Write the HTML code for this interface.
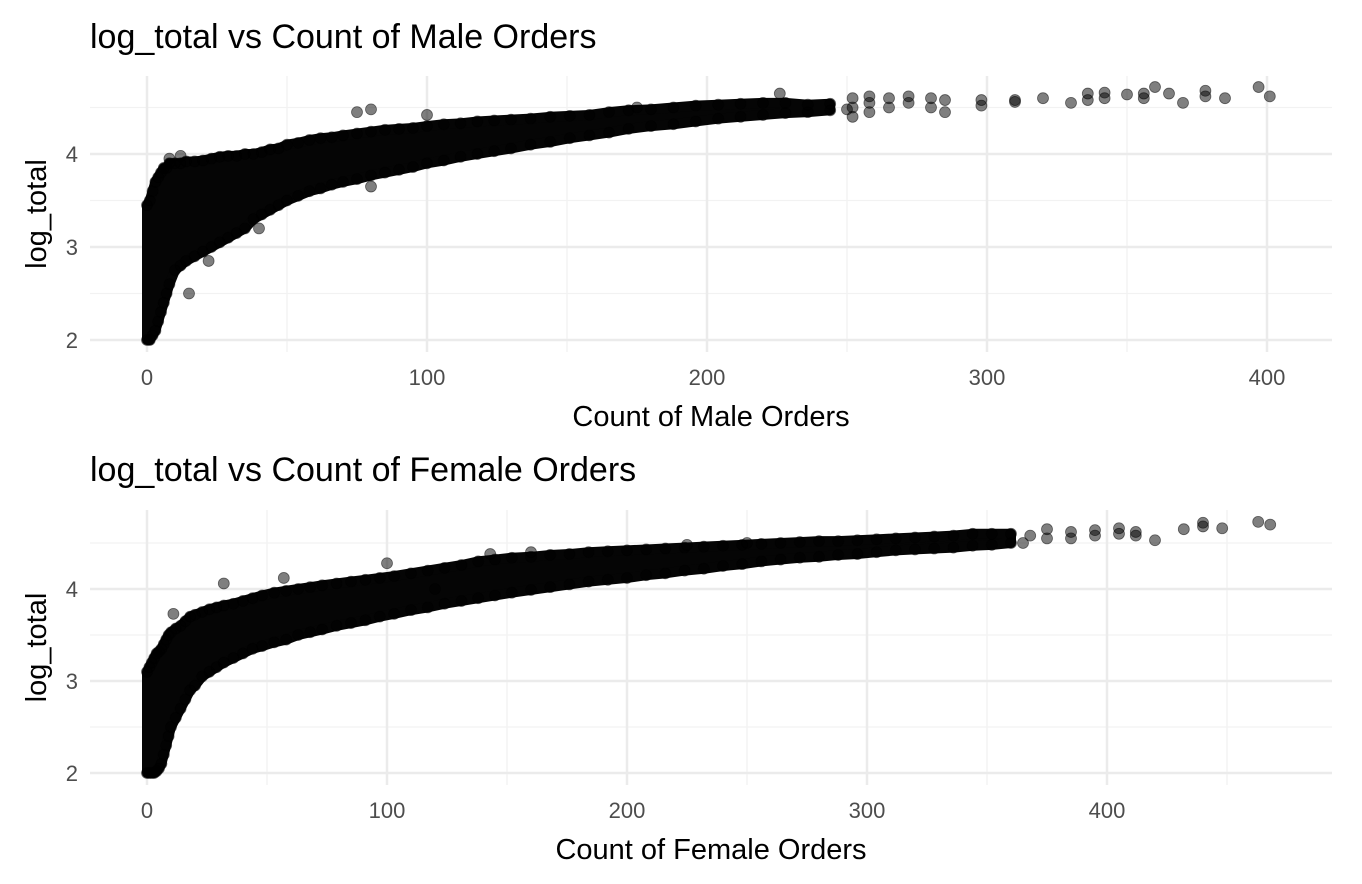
<!DOCTYPE html>
<html><head><meta charset="utf-8">
<style>
html,body{margin:0;padding:0;background:#fff;}
svg{display:block;font-family:"Liberation Sans",Arial,sans-serif;}
</style></head>
<body>
<svg id="chart" width="1362" height="884" viewBox="0 0 1362 884"></svg>
<script>
// ---- Male panel: dense band envelope: [x, lowest y, highest y]
const maleBand = [[0,2.0,3.45],[1,2.0,3.5],[2,2.05,3.6],[3,2.1,3.7],[4,2.2,3.75],[5,2.3,3.8],[6,2.4,3.85],[7,2.5,3.85],[8,2.6,3.9],[10,2.75,3.9],[12,2.8,3.9],[14,2.85,3.92],[17,2.9,3.92],[20,2.95,3.93],[23,3.0,3.95],[26,3.05,3.97],[29,3.1,3.98],[32,3.15,3.98],[35,3.2,4.0],[38,3.3,4.0],[41,3.35,4.02],[44,3.4,4.05],[47,3.45,4.06],[50,3.5,4.1],[54,3.55,4.12],[58,3.6,4.15],[62,3.63,4.17],[66,3.67,4.18],[70,3.7,4.2],[75,3.73,4.22],[80,3.77,4.24],[85,3.8,4.26],[90,3.83,4.27],[95,3.86,4.28],[100,3.9,4.3],[106,3.93,4.32],[112,3.97,4.33],[118,4.0,4.35],[124,4.03,4.36],[130,4.06,4.37],[137,4.1,4.38],[144,4.13,4.4],[151,4.17,4.41],[158,4.2,4.42],[165,4.23,4.45],[172,4.27,4.47],[180,4.3,4.48],[188,4.32,4.5],[196,4.35,4.52],[204,4.38,4.53],[212,4.4,4.54],[220,4.42,4.55],[228,4.44,4.55],[236,4.45,4.53],[244,4.47,4.54]];
// ---- Male panel: individual sparse points [x, y]
const malePoints = [[252,4.4],[252,4.5],[252,4.6],[258,4.45],[258,4.55],[258,4.62],[265,4.5],[265,4.6],[272,4.55],[272,4.62],[280,4.5],[280,4.6],[285,4.45],[285,4.58],[298,4.52],[298,4.58],[310,4.56],[310,4.58],[320,4.6],[330,4.55],[336,4.58],[336,4.65],[342,4.6],[342,4.66],[350,4.64],[356,4.6],[356,4.65],[360,4.72],[365,4.65],[370,4.55],[378,4.62],[378,4.68],[385,4.6],[397,4.72],[401,4.62],[75,4.45],[80,4.48],[100,4.42],[12,3.98],[8,3.95],[22,2.85],[15,2.5],[40,3.2],[80,3.65],[226,4.65],[250,4.48],[175,4.5]];
// ---- Female panel
const femaleBand = [[0,2.0,3.1],[1,2.0,3.15],[2,2.0,3.2],[3,2.0,3.25],[4,2.02,3.3],[5,2.05,3.32],[6,2.1,3.35],[7,2.2,3.4],[8,2.3,3.45],[9,2.4,3.5],[10,2.5,3.53],[12,2.6,3.57],[14,2.7,3.6],[16,2.8,3.65],[18,2.9,3.7],[20,2.95,3.72],[23,3.05,3.75],[26,3.1,3.78],[29,3.15,3.8],[32,3.2,3.82],[36,3.25,3.84],[40,3.3,3.87],[44,3.35,3.9],[48,3.38,3.93],[53,3.42,3.96],[58,3.45,3.98],[63,3.5,4.0],[68,3.53,4.02],[73,3.56,4.04],[79,3.6,4.06],[85,3.63,4.08],[91,3.66,4.1],[97,3.7,4.12],[103,3.73,4.14],[110,3.77,4.17],[117,3.8,4.2],[124,3.84,4.23],[131,3.87,4.26],[138,3.9,4.3],[145,3.93,4.32],[152,3.96,4.34],[160,3.99,4.35],[168,4.02,4.37],[176,4.05,4.38],[184,4.08,4.4],[192,4.1,4.41],[200,4.12,4.42],[208,4.15,4.43],[216,4.17,4.44],[224,4.2,4.45],[232,4.22,4.46],[240,4.25,4.47],[248,4.27,4.48],[256,4.3,4.49],[264,4.32,4.5],[272,4.34,4.51],[280,4.35,4.52],[288,4.37,4.52],[296,4.38,4.53],[304,4.4,4.54],[312,4.42,4.55],[320,4.43,4.56],[328,4.44,4.57],[336,4.45,4.58],[344,4.47,4.6],[352,4.48,4.6],[360,4.5,4.6]];
const femalePoints = [[365,4.5],[368,4.58],[375,4.55],[375,4.65],[385,4.55],[385,4.62],[395,4.58],[395,4.64],[405,4.6],[405,4.66],[412,4.58],[412,4.62],[420,4.53],[432,4.65],[440,4.68],[440,4.72],[448,4.66],[463,4.73],[468,4.7],[32,4.06],[143,4.38],[11,3.73],[57,4.12],[100,4.28],[120,4.0],[160,4.4],[225,4.48],[250,4.5]];
const maleXTicks = [0,100,200,300,400];
const femaleXTicks = [0,100,200,300,400];
const yTicks = [2,3,4];

const NS = "http://www.w3.org/2000/svg";
const svg = document.getElementById('chart');
function mk(tag, attrs, parent){
  const e = document.createElementNS(NS, tag);
  for (const k in attrs) e.setAttribute(k, attrs[k]);
  (parent||svg).appendChild(e);
  return e;
}
function panel(cfg){
  const g = mk('g', {});
  
  
  const sx = v => cfg.x0 + v * cfg.kx;
  const sy = v => cfg.y2 - (v - 2) * cfg.ky;
  const L = 90, R = 1332, T = cfg.top, B = cfg.bottom;
  for (let v = 2.5; v <= 4.5; v += 1) {
    const l = mk('line', {x1:L,x2:R,y1:sy(v),y2:sy(v),stroke:'#f2f2f2','stroke-width':1.3}, g);
    
    
  }
  for (let v = 50; v <= cfg.xmax; v += 100) {
    const l = mk('line', {x1:sx(v),x2:sx(v),y1:T,y2:B,stroke:'#f2f2f2','stroke-width':1.3}, g);
    
    
  }
  yTicks.forEach(v => {
    const l = mk('line', {x1:L,x2:R,y1:sy(v),y2:sy(v),stroke:'#ebebeb','stroke-width':2.5}, g);
    
    
    const t = mk('text', {x:L-12,y:sy(v)+8,'text-anchor':'end','font-size':22,fill:'#4d4d4d'}, g);
    t.textContent = v;
    
    
  });
  cfg.ticks.forEach(v => {
    const l = mk('line', {x1:sx(v),x2:sx(v),y1:T,y2:B,stroke:'#ebebeb','stroke-width':2.5}, g);
    
    
    const t = mk('text', {x:sx(v),y:B+33,'text-anchor':'middle','font-size':22,fill:'#4d4d4d'}, g);
    t.textContent = v;
    
    
  });
  const pg = mk('g', {}, g);
  
  
  // dense overplotted region drawn as a filled envelope from band data
  const top = cfg.band.map(b => sx(b[0]) + ',' + sy(b[2]));
  const bot = cfg.band.slice().reverse().map(b => sx(b[0]) + ',' + sy(b[1]));
  const poly = mk('polygon', {points: top.concat(bot).join(' '), fill:'#050505', stroke:'#050505', 'stroke-width':10, 'stroke-linejoin':'round'}, pg);
  
  
  function dot(x, y){
    const c = mk('circle', {cx:sx(x),cy:sy(y),r:5.5,fill:'rgba(0,0,0,0.5)',stroke:'rgba(0,0,0,0.5)','stroke-width':0.8}, pg);
    
    
  }
  cfg.band.forEach(b => { dot(b[0], b[1]); dot(b[0], b[2]); });
  cfg.points.forEach(p => dot(p[0], p[1]));
  const title = mk('text', {x:90,y:cfg.titleY,'font-size':34,fill:'#000'}, g);
  title.textContent = cfg.title;
  
  
  const xt = mk('text', {x:(L+R)/2,y:B+74,'text-anchor':'middle','font-size':29,fill:'#000'}, g);
  xt.textContent = cfg.xlabel;
  
  
  const yc = (T+B)/2;
  const yt = mk('text', {x:0,y:0,'text-anchor':'middle','font-size':29,fill:'#000',transform:`translate(46,${yc}) rotate(-90)`}, g);
  yt.textContent = 'log_total';
  
  
}
panel({name:'male-panel', x0:147, kx:2.8, y2:340, ky:93, top:76, bottom:352, xmax:420, ticks:maleXTicks,
  band:maleBand, points:malePoints, title:'log_total vs Count of Male Orders', titleY:48, xlabel:'Count of Male Orders'});
panel({name:'female-panel', x0:147, kx:2.4, y2:773, ky:92, top:510, bottom:785, xmax:480, ticks:femaleXTicks,
  band:femaleBand, points:femalePoints, title:'log_total vs Count of Female Orders', titleY:481, xlabel:'Count of Female Orders'});
</script>
</body></html>
